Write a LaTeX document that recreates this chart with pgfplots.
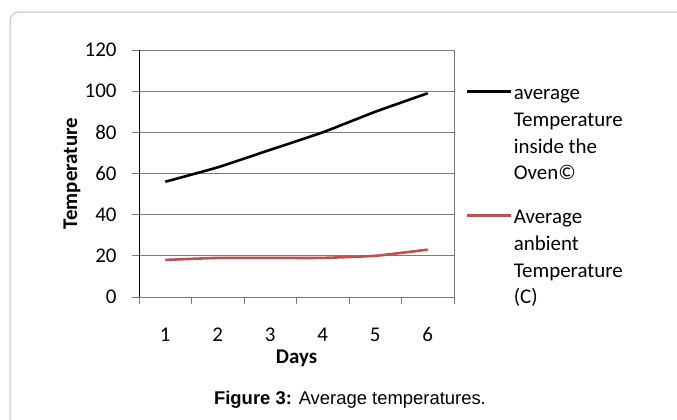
\documentclass[border=0pt]{standalone}
\usepackage{fontspec}
\setmainfont{Carlito}[Numbers=Lining]
\newfontfamily\arialf{Liberation Sans}
\usepackage{pgfplots}
\pgfplotsset{compat=1.18}
\definecolor{exred}{HTML}{C0504D}
\definecolor{gridc}{HTML}{7A7A7A}
\pgfplotsset{
  myleg/.style={
    legend cell align=left,
    legend style={draw=none, fill=none, at={(axis description cs:1.035,#1)}, anchor=north west,
      font=\fontsize{21}{26.7}\selectfont, inner sep=0pt},
    legend image code/.code={\draw[##1] (0bp,0bp) -- (44bp,0bp);},
  }
}
\begin{document}
\begin{tikzpicture}
\useasboundingbox (0,0) rectangle (677bp,-420bp);
\clip (0,0) rectangle (677bp,-420bp);
\draw[line width=1bp, color={rgb,255:red,190;green,190;blue,190}, rounded corners=9bp] (10bp,-12bp) rectangle (720bp,-460bp);
\begin{axis}[
  at={(139bp,-297bp)}, anchor=south west,
  scale only axis, width=315bp, height=247bp,
  xmin=0.5, xmax=6.5, ymin=0, ymax=120,
  xtick={1,...,6}, xticklabels={\mbox{1},\mbox{2},\mbox{3},\mbox{4},\mbox{5},\mbox{6}},
  minor xtick={0.5,1.5,...,6.5},
  ytick={0,20,...,120}, yticklabels={\mbox{0},\mbox{20},\mbox{40},\mbox{60},\mbox{80},\mbox{100},\mbox{120}},
  /pgf/number format/assume math mode=true,
  xtick pos=bottom, ytick pos=left,
  major x tick style={draw=none},
  minor x tick style={gridc, line width=0.8bp},
  minor tick length=7bp,
  y tick style={gridc, line width=0.8bp},
  major tick length=7bp,
  tick align=outside,
  ymajorgrids, grid style={gridc, line width=0.8bp},
  axis line style={gridc, line width=0.8bp},
  tick label style={font=\fontsize{21}{25}\selectfont},
  yticklabel style={xshift=-12bp},
  xticklabel style={anchor=base, text height=14bp, text depth=0bp, yshift=-37bp},
  xlabel={\bfseries Days},
  ylabel={\bfseries Temperature},
  every axis x label/.style={at={(axis description cs:0.5,-0.25)}, anchor=center, font=\fontsize{21}{25}\selectfont},
  every axis y label/.style={at={(axis description cs:-0.213,0.5)}, anchor=center, rotate=90, font=\fontsize{21}{25}\selectfont},
  clip=false,
  myleg=0.882,
]
\addplot[black, line width=2.6bp, smooth, tension=0.25] coordinates {(1,56) (2,63) (3,71.5) (4,80) (5,90) (6,99)};
\addlegendentry{\begin{tabular}[t]{@{}l@{}}average\\Temperature\\inside the\\Oven©\end{tabular}}
\end{axis}
\draw[black, line width=0.9bp] (139bp,-297bp) -- (139bp,-50bp);
\begin{axis}[
  at={(139bp,-297bp)}, anchor=south west,
  scale only axis, width=315bp, height=247bp,
  xmin=0.5, xmax=6.5, ymin=0, ymax=120,
  hide axis, clip=false,
  myleg=0.38,
]
\addplot[exred, line width=2.6bp, smooth, tension=0.25] coordinates {(1,18) (2,19) (3,19) (4,19) (5,20) (6,23)};
\addlegendentry{\begin{tabular}[t]{@{}l@{}}Average\\anbient\\Temperature\\(C)\end{tabular}}
\end{axis}
\node at (350bp,-400bp) {\arialf\fontsize{18.5}{22}\selectfont\textbf{Figure 3:} Average temperatures.};
\end{tikzpicture}
\end{document}
